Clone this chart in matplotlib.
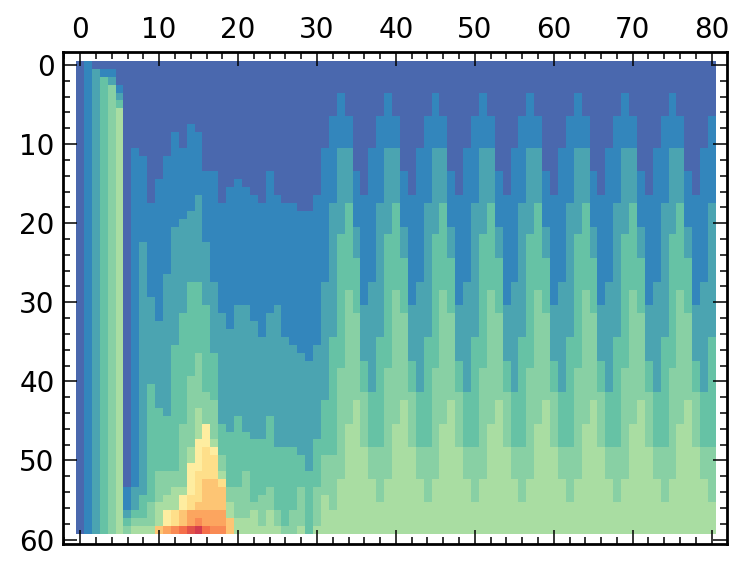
import numpy as np
import matplotlib
matplotlib.use("Agg")
import matplotlib.pyplot as plt
from matplotlib.colors import ListedColormap
from matplotlib.ticker import MultipleLocator

n_rows = 60
n_cols = 81

# first row where each column reaches a level, 60 means it never does
level1_start = [60, 0, 1, 1, 1, 3, 54, 11, 12, 18, 15, 12, 9, 11, 8, 9, 14, 14, 18, 16, 15, 16, 17, 18, 14, 17, 18, 18, 19, 19, 17, 11, 7,
                4, 7, 14, 17, 11, 7, 4, 7, 14, 17, 11, 7, 4, 7, 14, 17, 11, 7, 4, 7, 14, 17, 11, 7, 4, 7, 14, 17, 11, 7, 4, 7, 14, 17, 11, 7, 4, 7, 14, 17, 11, 7, 4, 7, 14, 17, 11, 7]
level2_start = [60, 60, 1, 2, 2, 4, 57, 54, 23, 30, 33, 27, 21, 20, 19, 17, 23, 28, 32, 34, 31, 31, 33, 35, 32, 31, 35, 36, 37, 38, 36, 28, 18,
                11, 11, 21, 31, 28, 18, 11, 11, 21, 31, 28, 18, 11, 11, 21, 31, 28, 18, 11, 11, 21, 31, 28, 18, 11, 11, 21, 31, 28, 18, 11, 11, 21, 31, 28, 18, 11, 11, 21, 31, 28, 18, 11, 11, 21, 31, 28, 18]
level3_start = [60, 60, 60, 2, 3, 5, 58, 57, 55, 41, 44, 45, 36, 32, 28, 28, 31, 37, 46, 47, 45, 47, 48, 48, 45, 49, 49, 49, 50, 52, 48, 43, 35,
                22, 18, 25, 38, 42, 35, 22, 18, 25, 38, 42, 35, 22, 18, 25, 38, 42, 35, 22, 18, 25, 38, 42, 35, 22, 18, 25, 38, 42, 35, 22, 18, 25, 38, 42, 35, 22, 18, 25, 38, 42, 35, 22, 18, 25, 38, 42, 35]
level4_start = [60, 60, 60, 60, 3, 6, 59, 58, 58, 56, 52, 52, 52, 46, 40, 37, 42, 43, 50, 54, 54, 52, 56, 55, 54, 57, 59, 57, 54, 60, 54, 50, 50,
                39, 29, 32, 42, 49, 49, 39, 29, 32, 42, 49, 49, 39, 29, 32, 42, 49, 49, 39, 29, 32, 42, 49, 49, 39, 29, 32, 42, 49, 49, 39, 29, 32, 42, 49, 49, 39, 29, 32, 42, 49, 49, 39, 29, 32, 42, 49, 49]
level5_start = [60, 60, 60, 60, 60, 6, 60, 59, 59, 59, 56, 55, 54, 54, 49, 44, 46, 48, 52, 56, 58, 58, 57, 59, 57, 59, 60, 60, 59, 60, 59, 55, 57,
                53, 46, 43, 49, 53, 56, 53, 46, 43, 49, 53, 56, 53, 46, 43, 49, 53, 56, 53, 46, 43, 49, 53, 56, 53, 46, 43, 49, 53, 56, 53, 46, 43, 49, 53, 56, 53, 46, 43, 49, 53, 56, 53, 46, 43, 49, 53, 56]

# the warm patch only exists in these columns
hot_columns = [10, 11, 12, 13, 14, 15, 16, 17, 18, 19]
level6_start = [59, 57, 57, 55, 51, 48, 46, 49, 53, 58]
level7_start = [59, 59, 57, 57, 55, 52, 49, 50, 53, 58]
level8_start = [59, 59, 59, 57, 57, 56, 53, 53, 54, 58]
level9_start = [60, 59, 59, 59, 57, 57, 57, 57, 57, 60]
level10_start = [60, 60, 59, 59, 59, 58, 59, 59, 59, 60]
level11_start = [60, 60, 60, 59, 59, 59, 59, 60, 60, 60]
level12_start = [60, 60, 60, 60, 59, 59, 60, 60, 60, 60]
level13_start = [60, 60, 60, 60, 60, 59, 60, 60, 60, 60]

level_colors = ["#4a68ae", "#3386bc", "#4ba4b1", "#66c2a5", "#88d0a4", "#a9dda2", "#feeda0",
                "#fedf8a", "#fdc574", "#fca55f", "#f98a54", "#f56f4a", "#e25249", "#d33c4d"]

rows = np.arange(n_rows)[:, None]
grid = np.zeros((n_rows, n_cols), dtype=int)
for starts in [level1_start, level2_start, level3_start, level4_start, level5_start]:
    grid += rows >= np.array(starts)[None, :]
for starts in [level6_start, level7_start, level8_start, level9_start,
               level10_start, level11_start, level12_start, level13_start]:
    grid[:, hot_columns] += rows >= np.array(starts)[None, :]

fig = plt.figure(figsize=(7.47, 5.69), dpi=100)
W, H = 747, 569
ax = fig.add_axes([63 / W, 1 - 543.5 / H, (727 - 63) / W, (543.5 - 52) / H])

ax.imshow(grid, cmap=ListedColormap(level_colors), vmin=-0.5, vmax=13.5,
          interpolation="nearest", aspect="auto", extent=(-0.5, 80.5, 59.3, -0.5))
ax.set_xlim(-2.19, 81.96)
ax.set_ylim(60.5, -1.64)

ax.xaxis.set_major_locator(MultipleLocator(10))
ax.xaxis.set_minor_locator(MultipleLocator(2))
ax.yaxis.set_major_locator(MultipleLocator(10))
ax.yaxis.set_minor_locator(MultipleLocator(2))
ax.tick_params(which="both", direction="in", top=True, bottom=True, left=True, right=True,
               labeltop=True, labelbottom=False, labelleft=True, labelright=False)
ax.tick_params(which="major", length=10, width=1.1, labelsize=20, pad=6)
ax.tick_params(which="minor", length=5, width=1.1)
for spine in ax.spines.values():
    spine.set_linewidth(2)

fig.savefig("out.png", dpi=100)
